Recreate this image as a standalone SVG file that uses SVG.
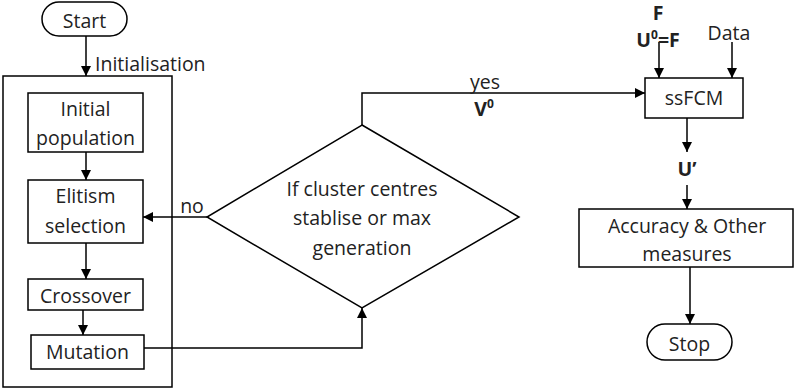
<svg xmlns="http://www.w3.org/2000/svg" width="795" height="391" viewBox="0 0 795 391">
<defs>
<marker id="ah" viewBox="0 0 10 10" refX="10" refY="5" markerWidth="10" markerHeight="10" markerUnits="userSpaceOnUse" orient="auto">
<path d="M0,0 L10,5 L0,10 z" fill="#000"/>
</marker>
<style>
.b{fill:#fff;stroke:#000;stroke-width:1.5}
.o{fill:none;stroke:#000;stroke-width:1.5}
.c{fill:none;stroke:#000;stroke-width:1.5;marker-end:url(#ah)}
text{font-family:"Open Sans","Noto Sans",sans-serif;font-size:19.5px;fill:#222;text-anchor:middle;dominant-baseline:central}
.bd{font-weight:bold}
</style>
</defs>
<rect width="795" height="391" fill="#fff"/>
<g id="outer"><rect class="o" x="3" y="76" width="169" height="311"/></g>
<g id="connectors">
<path class="c" d="M86,36 V76"/>
<path class="c" d="M86,152 V180"/>
<path class="c" d="M86,243 V279"/>
<path class="c" d="M83,310 V335"/>
<path class="c" d="M144,348 H362 V308"/>
<path class="c" d="M207,217 H143"/>
<path class="c" d="M362,125 V93 H645"/>
<path class="c" d="M659,42 V78"/>
<path class="c" d="M732,42 V78"/>
<path class="c" d="M687,118 V152"/>
<path class="c" d="M687,185 V209"/>
<path class="c" d="M690,267 V324"/>
<text x="95" y="63" style="text-anchor:start">Initialisation</text>
<text x="192" y="205">no</text>
<text x="485" y="81">yes</text>
<text x="484" y="108" class="bd">V<tspan font-size="12" dy="-5">0</tspan></text>
</g>
<g id="start"><rect class="b" x="42" y="2" width="85" height="34" rx="17"/><text x="84.5" y="20">Start</text></g>
<g id="initial"><rect class="b" x="28" y="93" width="115" height="59"/><text x="85.5" y="108">Initial</text><text x="85.5" y="137">population</text></g>
<g id="elitism"><rect class="b" x="28" y="180" width="115" height="63"/><text x="85.5" y="195">Elitism</text><text x="85.5" y="225">selection</text></g>
<g id="crossover"><rect class="b" x="28" y="279" width="115" height="31"/><text x="85.5" y="295">Crossover</text></g>
<g id="mutation"><rect class="b" x="31" y="335" width="113" height="34"/><text x="87.5" y="351">Mutation</text></g>
<g id="decision"><path class="b" d="M362,125 L519,217 L362,308 L207,217 Z"/><text x="362" y="188">If cluster centres</text><text x="362" y="217">stablise or max</text><text x="362" y="247">generation</text></g>
<g id="ssfcm"><rect class="b" x="645" y="78" width="98" height="40"/><text x="694" y="97">ssFCM</text></g>
<g id="inputF"><text x="658" y="12" class="bd">F</text><text x="658" y="39" class="bd">U<tspan font-size="12" dy="-5">0</tspan><tspan dy="5">=F</tspan></text></g>
<g id="inputData"><text x="729" y="32">Data</text></g>
<g id="uprime"><text x="687" y="168" class="bd">U’</text></g>
<g id="accuracy"><rect class="b" x="579" y="209" width="214" height="58"/><text x="687" y="225">Accuracy &amp; Other</text><text x="687" y="253">measures</text></g>
<g id="stop"><rect class="b" x="647" y="324" width="85" height="36" rx="18"/><text x="689.5" y="343">Stop</text></g>
</svg>
